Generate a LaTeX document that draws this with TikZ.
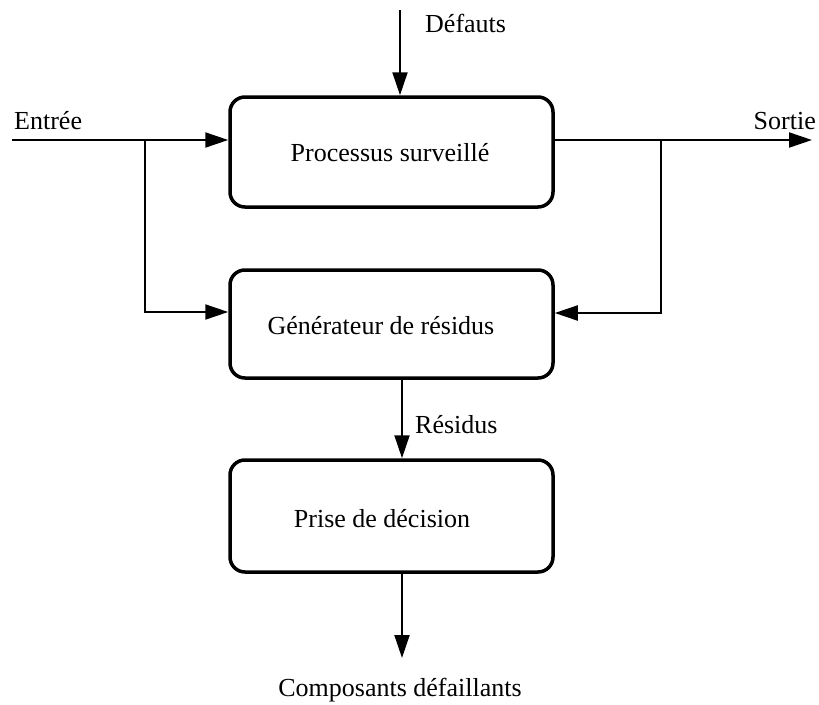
\documentclass[tikz,border=0pt]{standalone}
\usepackage{fontspec}
\setmainfont{Liberation Serif}
\usetikzlibrary{arrows.meta}
\begin{document}
\begin{tikzpicture}[x=1pt,y=-1pt,
  blk/.style={draw,line width=3.5pt,rounded corners=15pt,minimum width=323pt,inner sep=0pt},
  lbl/.style={font=\fontsize{26}{30}\selectfont,inner sep=0pt},
  conn/.style={line width=2pt,-{Triangle[length=23pt,width=15pt]}},
  wire/.style={line width=2pt}]
\useasboundingbox (0,0) rectangle (819,704);
\node[blk,minimum height=110pt] (p) at (391.5,152) {};
\node[blk,minimum height=108pt] (g) at (391.5,324) {};
\node[blk,minimum height=112pt] (d) at (391.5,516) {};
\node[lbl] (pt) at (390,153) {Processus surveillé};
\node[lbl] (gt) at (381,326) {Générateur de résidus};
\node[lbl] (dt) at (382,519) {Prise de décision};
\node[lbl,anchor=west] (ent) at (14,121) {Entrée};
\node[lbl,anchor=east] (sor) at (816,121) {Sortie};
\node[lbl,anchor=west] (def) at (425,23) {Défauts};
\node[lbl,anchor=west] (res) at (415,425) {Résidus};
\node[lbl] (comp) at (400,690) {Composants défaillants};
\coordinate (e0) at (12,140);
\coordinate (eb) at (145,140);
\coordinate (ed) at (145,312);
\coordinate (s1) at (812,140);
\coordinate (sb) at (661,140);
\coordinate (sd) at (661,313);
\coordinate (d0) at (400,10);
\coordinate (c1) at (402,658);
\draw[conn] (e0) -- (e0 -| p.west);
\draw[conn] (eb) -- (ed) -- (ed -| g.west);
\draw[conn] (p.east |- s1) -- (s1);
\draw[conn] (sb) -- (sd) -- (sd -| g.east);
\draw[conn] (d0) -- (d0 |- p.north);
\draw[conn] (g.south -| c1) -- (d.north -| c1);
\draw[conn] (d.south -| c1) -- (c1);
\end{tikzpicture}
\end{document}
